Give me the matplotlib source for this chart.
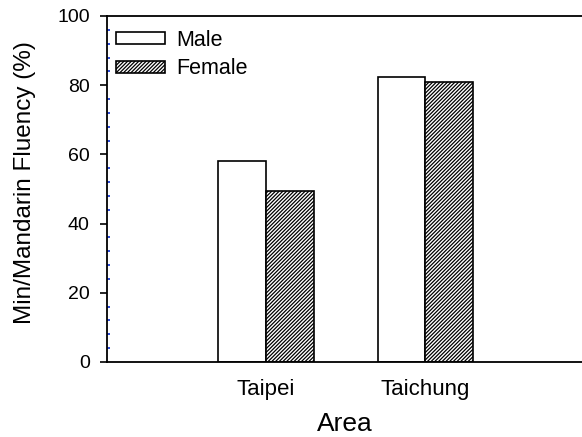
import matplotlib
matplotlib.use("Agg")
import matplotlib.pyplot as plt
import numpy as np
from matplotlib.ticker import MultipleLocator

plt.rcParams['font.family'] = ['Liberation Sans', 'DejaVu Sans']
plt.rcParams['hatch.linewidth'] = 0.9

areas = ["Taipei", "Taichung"]
male = [58.1, 82.5]
female = [49.3, 80.9]
yticks = [0, 20, 40, 60, 80, 100]

fig = plt.figure(figsize=(5.82, 4.37), dpi=100)
ax = fig.add_axes([107/582, 75/437, 1 - 107/582, (362-16)/437])

x = np.arange(1, len(areas) + 1)
w = 0.3
ax.bar(x - w/2, male, width=w, facecolor='white', edgecolor='black', linewidth=1.2, label='Male')
ax.bar(x + w/2, female, width=w, facecolor='white', edgecolor='black', linewidth=1.2, hatch='/' * 9, label='Female')

ax.set_xlim(0.006, 2.98)
ax.set_ylim(0, 100)
ax.set_yticks(yticks)
ax.yaxis.set_minor_locator(MultipleLocator(4))
ax.set_xticks(x)
ax.set_xticklabels(areas, fontsize=16)
ax.tick_params(axis='x', length=0, pad=12)
ax.tick_params(axis='y', which='major', direction='out', length=5, width=1.2, labelsize=14, pad=7.5)
ax.tick_params(axis='y', which='minor', direction='in', length=2.5, width=1.3, color='#1a3cd8')

for s in ['left', 'bottom', 'top']:
    ax.spines[s].set_linewidth(1.3)
ax.spines['right'].set_visible(False)

ax.set_ylabel("Min/Mandarin Fluency (%)", fontsize=17.5)
ax.yaxis.set_label_coords(-0.15, 0.52)
ax.set_xlabel("Area", fontsize=19, labelpad=9)

leg = ax.legend(loc='upper left', bbox_to_anchor=(0.0, 0.985), frameon=False, fontsize=15.5,
                handlelength=2.3, handleheight=0.5, handletextpad=0.5, labelspacing=0.35,
                borderaxespad=0.1, borderpad=0.3)

fig.savefig("out.png", dpi=100)
